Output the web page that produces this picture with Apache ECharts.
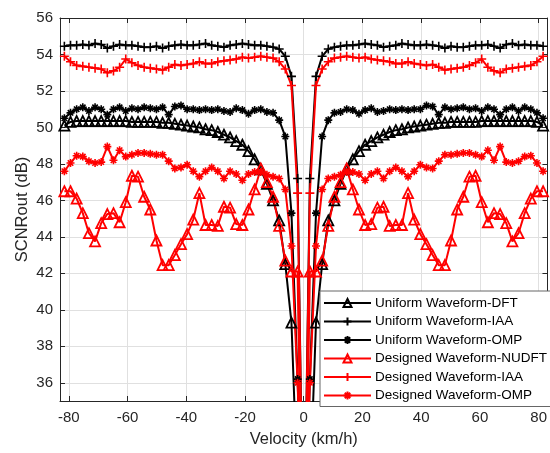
<!DOCTYPE html>
<html>
<head>
<meta charset="utf-8">
<script src="https://cdn.jsdelivr.net/npm/echarts@6/dist/echarts.min.js"></script>
<style>
  html, body { margin: 0; padding: 0; background: #fff; }
  #chart { width: 550px; height: 453px; }
</style>
</head>
<body>
<div id="chart"></div>
<script>
// velocity grid (km/h)
var velocity = [-81.51, -79.42, -77.33, -75.24, -73.15, -71.06, -68.97, -66.88, -64.79, -62.7,
  -60.61, -58.52, -56.43, -54.34, -52.25, -50.16, -48.07, -45.98, -43.89, -41.8,
  -39.71, -37.62, -35.53, -33.44, -31.35, -29.26, -27.17, -25.08, -22.99, -20.9,
  -18.81, -16.72, -14.63, -12.54, -10.45, -8.36, -6.27, -4.18, -2.09, 0,
  2.09, 4.18, 6.27, 8.36, 10.45, 12.54, 14.63, 16.72, 18.81, 20.9,
  22.99, 25.08, 27.17, 29.26, 31.35, 33.44, 35.53, 37.62, 39.71, 41.8,
  43.89, 45.98, 48.07, 50.16, 52.25, 54.34, 56.43, 58.52, 60.61, 62.7,
  64.79, 66.88, 68.97, 71.06, 73.15, 75.24, 77.33, 79.42, 81.51]

var uniformDFT = [50.1, 50.3, 50.35, 50.35, 50.35, 50.35, 50.35, 50.35, 50.35, 50.35,
  50.35, 50.3, 50.3, 50.3, 50.3, 50.3, 50.25, 50.25, 50.2, 50.15,
  50.1, 50.05, 50.0, 49.9, 49.85, 49.75, 49.6, 49.45, 49.25, 49.05,
  48.7, 48.25, 47.7, 46.9, 46.0, 44.9, 42.5, 39.3, 30, 25,
  30, 39.3, 42.5, 44.9, 46.0, 46.9, 47.7, 48.25, 48.7, 49.05,
  49.25, 49.45, 49.6, 49.75, 49.85, 49.9, 50.0, 50.05, 50.1, 50.15,
  50.2, 50.25, 50.25, 50.3, 50.3, 50.3, 50.3, 50.3, 50.35, 50.35,
  50.35, 50.35, 50.35, 50.35, 50.35, 50.35, 50.35, 50.3, 50.1]

var uniformIAA = [54.45, 54.5, 54.5, 54.55, 54.5, 54.6, 54.55, 54.35, 54.45, 54.55,
  54.5, 54.5, 54.45, 54.4, 54.4, 54.45, 54.35, 54.45, 54.5, 54.55,
  54.5, 54.5, 54.55, 54.6, 54.5, 54.45, 54.4, 54.5, 54.55, 54.6,
  54.55, 54.5, 54.5, 54.45, 54.4, 54.3, 53.9, 52.8, 47.2, 25,
  47.2, 52.8, 53.9, 54.3, 54.4, 54.45, 54.5, 54.5, 54.55, 54.6,
  54.55, 54.5, 54.4, 54.45, 54.5, 54.6, 54.55, 54.5, 54.5, 54.55,
  54.5, 54.45, 54.35, 54.45, 54.4, 54.4, 54.45, 54.5, 54.5, 54.55,
  54.45, 54.35, 54.55, 54.6, 54.5, 54.55, 54.5, 54.5, 54.45]

var uniformOMP = [50.5, 50.8, 51.0, 51.1, 50.9, 51.1, 51.0, 50.7, 51.0, 51.1,
  50.9, 51.05, 51.0, 51.1, 51.05, 51.0, 51.1, 50.7, 51.15, 51.2,
  51.0, 51.0, 50.95, 51.0, 50.95, 51.0, 50.9, 50.85, 51.05, 50.95,
  50.75, 50.95, 51.0, 50.85, 50.8, 50.4, 49.5, 45.3, 36.2, 25,
  36.2, 45.3, 49.5, 50.4, 50.8, 50.85, 51.0, 50.95, 50.75, 50.95,
  51.05, 50.85, 50.9, 51.0, 50.95, 51.0, 50.95, 51.0, 51.0, 51.2,
  51.15, 50.7, 51.1, 51.0, 51.05, 51.1, 51.0, 51.05, 50.9, 51.1,
  51.0, 50.7, 51.0, 51.1, 50.9, 51.1, 51.0, 50.8, 50.5]

var designedNUDFT = [46.5, 46.5, 46.1, 45.3, 44.2, 43.75, 44.75, 45.25, 45.3, 44.8,
  45.9, 47.35, 47.3, 46.2, 45.5, 43.8, 42.45, 42.45, 43.0, 43.6,
  44.15, 44.95, 46.4, 44.65, 44.65, 44.6, 45.65, 45.6, 44.7, 44.65,
  45.5, 46.6, 47.75, 47.0, 46.2, 44.6, 42.7, 42.1, 42.1, 20,
  42.1, 42.1, 42.7, 44.6, 46.2, 47.0, 47.75, 46.6, 45.5, 44.65,
  44.7, 45.6, 45.65, 44.6, 44.65, 44.65, 46.4, 44.95, 44.15, 43.6,
  43.0, 42.45, 42.45, 43.8, 45.5, 46.2, 47.3, 47.35, 45.9, 44.8,
  45.3, 45.25, 44.75, 43.75, 44.2, 45.3, 46.1, 46.5, 46.5]

var designedIAA = [53.9, 53.6, 53.4, 53.35, 53.3, 53.25, 53.2, 53.0, 53.1, 53.3,
  53.75, 53.55, 53.4, 53.3, 53.25, 53.2, 53.15, 53.3, 53.45, 53.4,
  53.45, 53.5, 53.6, 53.5, 53.5, 53.6, 53.65, 53.7, 53.75, 53.85,
  53.8, 53.85, 53.9, 53.85, 53.8, 53.6, 53.2, 52.3, 46.4, 25,
  46.4, 52.3, 53.2, 53.6, 53.8, 53.85, 53.9, 53.85, 53.8, 53.85,
  53.75, 53.7, 53.65, 53.6, 53.5, 53.5, 53.6, 53.5, 53.45, 53.4,
  53.45, 53.3, 53.15, 53.2, 53.25, 53.3, 53.4, 53.55, 53.75, 53.3,
  53.1, 53.0, 53.2, 53.25, 53.3, 53.35, 53.4, 53.6, 53.9]

var designedOMP = [47.6, 48.05, 48.45, 48.4, 48.15, 48.05, 48.1, 48.95, 48.2, 48.75,
  48.4, 48.5, 48.6, 48.6, 48.55, 48.5, 48.5, 48.15, 47.75, 47.8,
  47.95, 47.6, 47.3, 47.6, 47.8, 47.6, 47.2, 47.6, 47.45, 47.1,
  47.45, 47.55, 47.55, 47.4, 47.3, 47.2, 46.6, 43.5, 36, 25,
  36, 43.5, 46.6, 47.2, 47.3, 47.4, 47.55, 47.55, 47.45, 47.1,
  47.45, 47.6, 47.2, 47.6, 47.8, 47.6, 47.3, 47.6, 47.95, 47.8,
  47.75, 48.15, 48.5, 48.5, 48.55, 48.6, 48.6, 48.5, 48.4, 48.75,
  48.2, 48.95, 48.1, 48.05, 48.15, 48.4, 48.45, 48.05, 47.6]

var xTicks = [-80, -60, -40, -20, 0, 20, 40, 60, 80]
var yTicks = [36, 38, 40, 42, 44, 46, 48, 50, 52, 54, 56]

var font = 'Liberation Sans, Arial, Helvetica, sans-serif'
var axisColor = '#262626'
var gridColor = '#e0e0e0'

var plusPath = 'path://M5,0L5,10M0,5L10,5'
var starPath = 'path://M5,0L5,10M0,5L10,5M1.6,1.6L8.4,8.4M1.6,8.4L8.4,1.6'

function pairs(vals) {
  return velocity.map(function (v, i) { return [v, vals[i]] })
}

function makeSeries(name, vals, color, symbol, size) {
  var hollow = symbol === 'triangle'
  return {
    name: name,
    type: 'line',
    data: pairs(vals),
    symbol: symbol,
    symbolSize: size,
    showAllSymbol: true,
    clip: true,
    lineStyle: { color: color, width: 2 },
    itemStyle: {
      color: hollow ? 'rgba(255,255,255,0)' : color,
      borderColor: color,
      borderWidth: hollow ? 1.8 : 1.6
    },
    emphasis: { disabled: true }
  }
}

var chart = echarts.init(document.getElementById('chart'), null, { renderer: 'canvas' })

var option = {
  animation: false,
  backgroundColor: '#fff',
  textStyle: { fontFamily: font },
  grid: { left: 60, top: 18, right: -3, bottom: 47, containLabel: false },
  legend: {
    orient: 'vertical',
    left: 320,
    top: 291,
    itemWidth: 47,
    itemHeight: 10,
    itemGap: 4.5,
    padding: [5, 20, 4, 3],
    backgroundColor: '#fff',
    borderColor: '#666',
    borderWidth: 1,
    borderRadius: 0,
    textStyle: { fontFamily: font, fontSize: 13.5, lineHeight: 14, color: '#000', padding: [0, 0, 0, -1] },
    data: ['Uniform Waveform-DFT', 'Uniform Waveform-IAA', 'Uniform Waveform-OMP',
      'Designed Waveform-NUDFT', 'Designed Waveform-IAA', 'Designed Waveform-OMP']
  },
  xAxis: [
    {
      type: 'value',
      position: 'bottom',
      min: -83,
      max: 83,
      name: 'Velocity (km/h)',
      nameLocation: 'middle',
      nameGap: 30,
      nameMoveOverlap: false,
      nameTextStyle: { fontFamily: font, fontSize: 16.5, color: axisColor },
      axisLine: { show: true, onZero: false, lineStyle: { color: axisColor, width: 1 } },
      axisTick: { show: true, inside: true, length: 5, customValues: xTicks, lineStyle: { color: axisColor } },
      axisLabel: { customValues: xTicks, fontFamily: font, fontSize: 15, color: axisColor, margin: 9 },
      splitLine: { show: true, lineStyle: { color: gridColor, width: 1 } }
    },
    {
      type: 'value',
      position: 'top',
      min: -83,
      max: 83,
      axisLine: { show: true, onZero: false, lineStyle: { color: axisColor, width: 1 } },
      axisTick: { show: true, inside: true, length: 5, customValues: xTicks, lineStyle: { color: axisColor } },
      axisLabel: { show: false },
      splitLine: { show: false }
    }
  ],
  yAxis: [
    {
      type: 'value',
      position: 'left',
      min: 35,
      max: 56,
      name: 'SCNRout (dB)',
      nameLocation: 'middle',
      nameGap: 29,
      nameMoveOverlap: false,
      nameTextStyle: { fontFamily: font, fontSize: 16.5, color: axisColor },
      axisLine: { show: true, onZero: false, lineStyle: { color: axisColor, width: 1 } },
      axisTick: { show: true, inside: true, length: 5, customValues: yTicks, lineStyle: { color: axisColor } },
      axisLabel: { customValues: yTicks, fontFamily: font, fontSize: 15, color: axisColor, margin: 7 },
      splitLine: { show: true, lineStyle: { color: gridColor, width: 1 } }
    },
    {
      type: 'value',
      position: 'right',
      min: 35,
      max: 56,
      axisLine: { show: true, onZero: false, lineStyle: { color: axisColor, width: 1 } },
      axisTick: { show: true, inside: true, length: 5, customValues: yTicks, lineStyle: { color: axisColor } },
      axisLabel: { show: false },
      splitLine: { show: false }
    }
  ],
  series: [
    makeSeries('Uniform Waveform-DFT', uniformDFT, '#000000', 'triangle', 10),
    makeSeries('Uniform Waveform-IAA', uniformIAA, '#000000', plusPath, 9),
    makeSeries('Uniform Waveform-OMP', uniformOMP, '#000000', starPath, 8),
    makeSeries('Designed Waveform-NUDFT', designedNUDFT, '#ff0000', 'triangle', 10),
    makeSeries('Designed Waveform-IAA', designedIAA, '#ff0000', plusPath, 9),
    makeSeries('Designed Waveform-OMP', designedOMP, '#ff0000', starPath, 8)
  ]
}

chart.setOption(option)
</script>
</body>
</html>
